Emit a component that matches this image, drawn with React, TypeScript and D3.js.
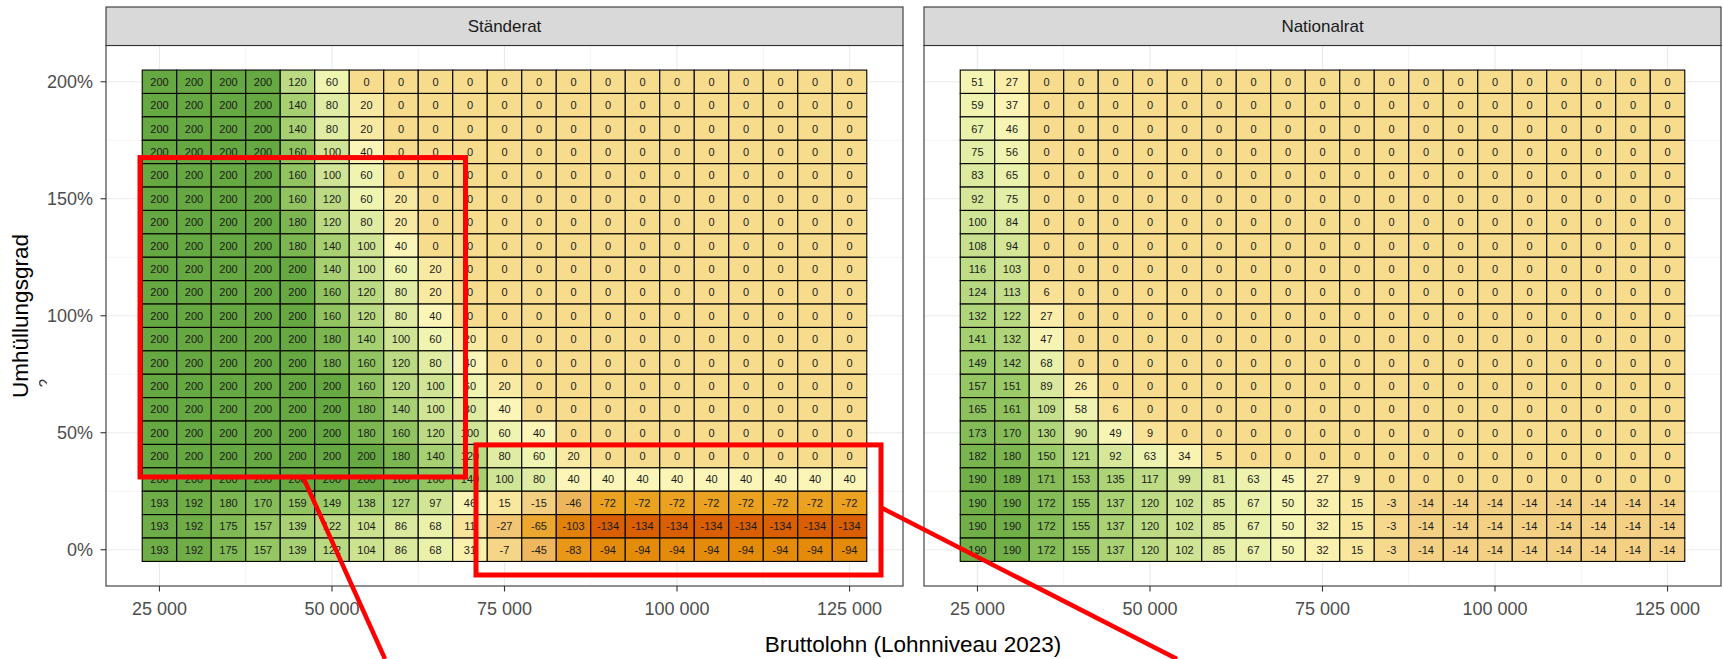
import React from "react";
import * as d3 from "d3";

// ---------- DATA ----------
const bruttolohn = [
  25000, 30000, 35000, 40000, 45000, 50000, 55000, 60000, 65000, 70000, 75000,
  80000, 85000, 90000, 95000, 100000, 105000, 110000, 115000, 120000, 125000,
];

// rows from top (200%) to bottom (0%)
const umhuellungsgrad = [200, 190, 180, 170, 160, 150, 140, 130, 120, 110, 100, 90, 80, 70, 60, 50, 40, 30, 20, 10, 0];

const staenderat = [
  [200, 200, 200, 200, 120, 60, 0, 0, 0, 0, 0, 0, 0, 0, 0, 0, 0, 0, 0, 0, 0],
  [200, 200, 200, 200, 140, 80, 20, 0, 0, 0, 0, 0, 0, 0, 0, 0, 0, 0, 0, 0, 0],
  [200, 200, 200, 200, 140, 80, 20, 0, 0, 0, 0, 0, 0, 0, 0, 0, 0, 0, 0, 0, 0],
  [200, 200, 200, 200, 160, 100, 40, 0, 0, 0, 0, 0, 0, 0, 0, 0, 0, 0, 0, 0, 0],
  [200, 200, 200, 200, 160, 100, 60, 0, 0, 0, 0, 0, 0, 0, 0, 0, 0, 0, 0, 0, 0],
  [200, 200, 200, 200, 160, 120, 60, 20, 0, 0, 0, 0, 0, 0, 0, 0, 0, 0, 0, 0, 0],
  [200, 200, 200, 200, 180, 120, 80, 20, 0, 0, 0, 0, 0, 0, 0, 0, 0, 0, 0, 0, 0],
  [200, 200, 200, 200, 180, 140, 100, 40, 0, 0, 0, 0, 0, 0, 0, 0, 0, 0, 0, 0, 0],
  [200, 200, 200, 200, 200, 140, 100, 60, 20, 0, 0, 0, 0, 0, 0, 0, 0, 0, 0, 0, 0],
  [200, 200, 200, 200, 200, 160, 120, 80, 20, 0, 0, 0, 0, 0, 0, 0, 0, 0, 0, 0, 0],
  [200, 200, 200, 200, 200, 160, 120, 80, 40, 0, 0, 0, 0, 0, 0, 0, 0, 0, 0, 0, 0],
  [200, 200, 200, 200, 200, 180, 140, 100, 60, 20, 0, 0, 0, 0, 0, 0, 0, 0, 0, 0, 0],
  [200, 200, 200, 200, 200, 180, 160, 120, 80, 40, 0, 0, 0, 0, 0, 0, 0, 0, 0, 0, 0],
  [200, 200, 200, 200, 200, 200, 160, 120, 100, 60, 20, 0, 0, 0, 0, 0, 0, 0, 0, 0, 0],
  [200, 200, 200, 200, 200, 200, 180, 140, 100, 80, 40, 0, 0, 0, 0, 0, 0, 0, 0, 0, 0],
  [200, 200, 200, 200, 200, 200, 180, 160, 120, 100, 60, 40, 0, 0, 0, 0, 0, 0, 0, 0, 0],
  [200, 200, 200, 200, 200, 200, 200, 180, 140, 120, 80, 60, 20, 0, 0, 0, 0, 0, 0, 0, 0],
  [200, 200, 200, 200, 200, 200, 200, 180, 160, 140, 100, 80, 40, 40, 40, 40, 40, 40, 40, 40, 40],
  [193, 192, 180, 170, 159, 149, 138, 127, 97, 46, 15, -15, -46, -72, -72, -72, -72, -72, -72, -72, -72],
  [193, 192, 175, 157, 139, 122, 104, 86, 68, 11, -27, -65, -103, -134, -134, -134, -134, -134, -134, -134, -134],
  [193, 192, 175, 157, 139, 122, 104, 86, 68, 31, -7, -45, -83, -94, -94, -94, -94, -94, -94, -94, -94],
];

const nationalrat = [
  [51, 27, 0, 0, 0, 0, 0, 0, 0, 0, 0, 0, 0, 0, 0, 0, 0, 0, 0, 0, 0],
  [59, 37, 0, 0, 0, 0, 0, 0, 0, 0, 0, 0, 0, 0, 0, 0, 0, 0, 0, 0, 0],
  [67, 46, 0, 0, 0, 0, 0, 0, 0, 0, 0, 0, 0, 0, 0, 0, 0, 0, 0, 0, 0],
  [75, 56, 0, 0, 0, 0, 0, 0, 0, 0, 0, 0, 0, 0, 0, 0, 0, 0, 0, 0, 0],
  [83, 65, 0, 0, 0, 0, 0, 0, 0, 0, 0, 0, 0, 0, 0, 0, 0, 0, 0, 0, 0],
  [92, 75, 0, 0, 0, 0, 0, 0, 0, 0, 0, 0, 0, 0, 0, 0, 0, 0, 0, 0, 0],
  [100, 84, 0, 0, 0, 0, 0, 0, 0, 0, 0, 0, 0, 0, 0, 0, 0, 0, 0, 0, 0],
  [108, 94, 0, 0, 0, 0, 0, 0, 0, 0, 0, 0, 0, 0, 0, 0, 0, 0, 0, 0, 0],
  [116, 103, 0, 0, 0, 0, 0, 0, 0, 0, 0, 0, 0, 0, 0, 0, 0, 0, 0, 0, 0],
  [124, 113, 6, 0, 0, 0, 0, 0, 0, 0, 0, 0, 0, 0, 0, 0, 0, 0, 0, 0, 0],
  [132, 122, 27, 0, 0, 0, 0, 0, 0, 0, 0, 0, 0, 0, 0, 0, 0, 0, 0, 0, 0],
  [141, 132, 47, 0, 0, 0, 0, 0, 0, 0, 0, 0, 0, 0, 0, 0, 0, 0, 0, 0, 0],
  [149, 142, 68, 0, 0, 0, 0, 0, 0, 0, 0, 0, 0, 0, 0, 0, 0, 0, 0, 0, 0],
  [157, 151, 89, 26, 0, 0, 0, 0, 0, 0, 0, 0, 0, 0, 0, 0, 0, 0, 0, 0, 0],
  [165, 161, 109, 58, 6, 0, 0, 0, 0, 0, 0, 0, 0, 0, 0, 0, 0, 0, 0, 0, 0],
  [173, 170, 130, 90, 49, 9, 0, 0, 0, 0, 0, 0, 0, 0, 0, 0, 0, 0, 0, 0, 0],
  [182, 180, 150, 121, 92, 63, 34, 5, 0, 0, 0, 0, 0, 0, 0, 0, 0, 0, 0, 0, 0],
  [190, 189, 171, 153, 135, 117, 99, 81, 63, 45, 27, 9, 0, 0, 0, 0, 0, 0, 0, 0, 0],
  [190, 190, 172, 155, 137, 120, 102, 85, 67, 50, 32, 15, -3, -14, -14, -14, -14, -14, -14, -14, -14],
  [190, 190, 172, 155, 137, 120, 102, 85, 67, 50, 32, 15, -3, -14, -14, -14, -14, -14, -14, -14, -14],
  [190, 190, 172, 155, 137, 120, 102, 85, 67, 50, 32, 15, -3, -14, -14, -14, -14, -14, -14, -14, -14],
];

const panelNames = ["Ständerat", "Nationalrat"];
const xTicks = [25000, 50000, 75000, 100000, 125000];
const xMinor = [37500, 62500, 87500, 112500];
const yTicks = [0, 50, 100, 150, 200];
const yMinor = [25, 75, 125, 175];

// colour stops for fill
const fillStops = [-134, -94, -72, -46, -15, 0, 20, 40, 60, 100, 150, 200];
const fillColors = ["#d95f02", "#e58b0c", "#eba221", "#eeb65c", "#f3cf82", "#f7dc8e", "#f9eaa3", "#fbf6b7", "#eff4b0", "#d0e495", "#9ccb69", "#66a841"];

// annotation overlays (in data units of the Ständerat panel)
const annoRects = [
  { x0: 22177, x1: 69349, y0: 31.1, y1: 167.6 },
  { x0: 70870, x1: 129562, y0: -10.8, y1: 44.8 },
];
const annoLines = [
  { x0: 45799, y0: 31.1, x1: 57682, y1: -46.7 },
  { x0: 129707, y0: 17.8, x1: 172458, y1: -46.7 },
];

// ---------- LAYOUT ----------
const W = 1723;
const H = 659;
const panelX: [number, number][] = [[106, 903], [924, 1721]];
const panelTop = 45.5;
const panelBottom = 586;
const stripTop = 7;
const font = "'Liberation Sans', Arial, sans-serif";

const fmtX = d3.formatLocale({ decimal: ".", thousands: " ", grouping: [3], currency: ["", ""] }).format(",");

export default function App() {
  const color = d3.scaleLinear<string>().domain(fillStops).range(fillColors).interpolate(d3.interpolateRgb).clamp(true);
  const y = d3.scaleLinear().domain([-15.5, 215.5]).range([panelBottom, panelTop]);
  const tileH = Math.abs(y(10) - y(0));
  const datasets = [staenderat, nationalrat];

  return (
    <svg width={W} height={H} style={{ position: "absolute", left: 0, top: 0, background: "#fff" }} fontFamily={font}>
      <defs>
        <clipPath id="clip2">
          <rect x={39} y={370} width={8} height={25} />
        </clipPath>
      </defs>
      <rect x={0} y={0} width={W} height={H} fill="#fff" />
      {panelNames.map((name, p) => {
        const x = d3.scaleLinear().domain([17250, 132750]).range(panelX[p]);
        const tileW = x(30000) - x(25000);
        const data = datasets[p];
        return (
          <g key={name}>
            {/* grid */}
            {xMinor.map((v) => (
              <line key={"xm" + v} x1={x(v)} x2={x(v)} y1={panelTop} y2={panelBottom} stroke="#ebebeb" strokeWidth={0.6} />
            ))}
            {yMinor.map((v) => (
              <line key={"ym" + v} x1={panelX[p][0]} x2={panelX[p][1]} y1={y(v)} y2={y(v)} stroke="#ebebeb" strokeWidth={0.6} />
            ))}
            {xTicks.map((v) => (
              <line key={"xM" + v} x1={x(v)} x2={x(v)} y1={panelTop} y2={panelBottom} stroke="#ebebeb" strokeWidth={1.2} />
            ))}
            {yTicks.map((v) => (
              <line key={"yM" + v} x1={panelX[p][0]} x2={panelX[p][1]} y1={y(v)} y2={y(v)} stroke="#ebebeb" strokeWidth={1.2} />
            ))}
            {/* tiles */}
            {data.map((row, ri) =>
              row.map((val, ci) => (
                <rect
                  key={"t" + ri + "_" + ci}
                  x={x(bruttolohn[ci]) - tileW / 2}
                  y={y(umhuellungsgrad[ri]) - tileH / 2}
                  width={tileW}
                  height={tileH}
                  fill={color(val)}
                  stroke="#000"
                  strokeWidth={1.1}
                />
              ))
            )}
            {data.map((row, ri) =>
              row.map((val, ci) => (
                <text
                  key={"l" + ri + "_" + ci}
                  x={x(bruttolohn[ci])}
                  y={y(umhuellungsgrad[ri])}
                  dy="0.36em"
                  textAnchor="middle"
                  fontSize={11}
                  fill="#1a1a1a"
                >
                  {val}
                </text>
              ))
            )}
            {/* panel border */}
            <rect x={panelX[p][0]} y={panelTop} width={panelX[p][1] - panelX[p][0]} height={panelBottom - panelTop} fill="none" stroke="#333" strokeWidth={1.1} />
            {/* strip */}
            <rect x={panelX[p][0]} y={stripTop} width={panelX[p][1] - panelX[p][0]} height={panelTop - stripTop} fill="#d9d9d9" stroke="#333" strokeWidth={1.1} />
            <text x={(panelX[p][0] + panelX[p][1]) / 2} y={(stripTop + panelTop) / 2} dy="0.36em" textAnchor="middle" fontSize={17} fill="#1a1a1a">
              {name}
            </text>
            {/* x axis */}
            {xTicks.map((v) => (
              <g key={"xt" + v}>
                <line x1={x(v)} x2={x(v)} y1={panelBottom} y2={panelBottom + 5.5} stroke="#333" strokeWidth={1.1} />
                <text x={x(v)} y={615} textAnchor="middle" fontSize={18} fill="#4d4d4d">
                  {fmtX(v)}
                </text>
              </g>
            ))}
            {/* y axis */}
            {p === 0 &&
              yTicks.map((v) => (
                <g key={"yt" + v}>
                  <line x1={panelX[0][0] - 5.5} x2={panelX[0][0]} y1={y(v)} y2={y(v)} stroke="#333" strokeWidth={1.1} />
                  <text x={93} y={y(v)} dy="0.36em" textAnchor="end" fontSize={18} fill="#4d4d4d">
                    {v + "%"}
                  </text>
                </g>
              ))}
          </g>
        );
      })}
      {/* axis titles */}
      <text x={913} y={652} textAnchor="middle" fontSize={22.5} fill="#000">
        Bruttolohn (Lohnniveau 2023)
      </text>
      <text transform="translate(28,316) rotate(-90)" textAnchor="middle" fontSize={22.5} fill="#000">
        Umhüllungsgrad
      </text>
      <g clipPath="url(#clip2)">
        <text transform="translate(51,383) rotate(-90)" textAnchor="middle" fontSize={16} fill="#333">
          2
        </text>
      </g>
      {/* red annotations */}
      {(() => {
        const x = d3.scaleLinear().domain([17250, 132750]).range(panelX[0]);
        return (
          <g>
            {annoRects.map((r, i) => (
              <rect key={"ar" + i} x={x(r.x0)} y={y(r.y1)} width={x(r.x1) - x(r.x0)} height={y(r.y0) - y(r.y1)} fill="none" stroke="#ff0000" strokeWidth={5} />
            ))}
            {annoLines.map((l, i) => (
              <line key={"al" + i} x1={x(l.x0)} y1={y(l.y0)} x2={x(l.x1)} y2={y(l.y1)} stroke="#ff0000" strokeWidth={4.5} />
            ))}
          </g>
        );
      })()}
    </svg>
  );
}
